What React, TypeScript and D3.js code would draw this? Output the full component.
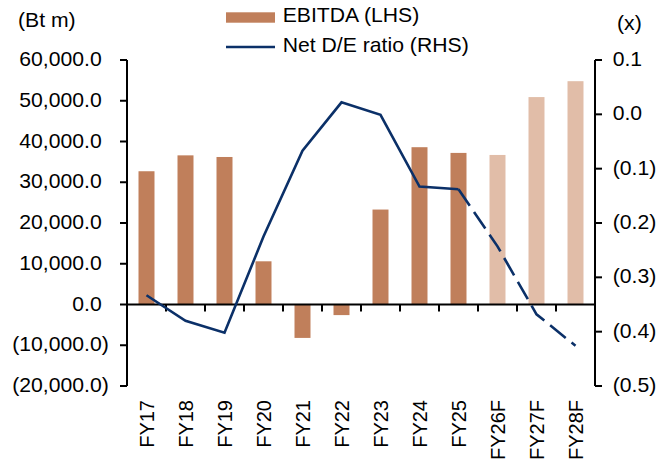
import React, { useEffect, useRef } from 'react';
import * as d3 from 'd3';

// chart values
const categories = ['FY17', 'FY18', 'FY19', 'FY20', 'FY21', 'FY22', 'FY23', 'FY24', 'FY25', 'FY26F', 'FY27F', 'FY28F'];
const ebitda = [32700, 36600, 36200, 10600, -8200, -2600, 23300, 38600, 37200, 36700, 50900, 54800];
const netDE = [-0.333, -0.38, -0.402, -0.225, -0.067, 0.022, -0.001, -0.133, -0.138, -0.243, -0.368, -0.426];
const leftTicks = [-20000, -10000, 0, 10000, 20000, 30000, 40000, 50000, 60000];
const rightTicks = [-0.5, -0.4, -0.3, -0.2, -0.1, 0, 0.1];
const firstDashed = 'FY25'; // line is dashed from here on

const App = () => {
  const ref = useRef<SVGSVGElement | null>(null);

  useEffect(() => {
    const width = 672;
    const height = 459;
    const margin = { top: 60, right: 77, bottom: 73, left: 127 };
    const font = "'Liberation Sans', Arial, sans-serif";
    const barColor = '#C07F5B';
    const barColorF = '#E1BDA8';
    const lineColor = '#0B3068';
    const stretch = 1.06;

    const svg = d3.select(ref.current);
    svg.selectAll('*').remove();

    const x = d3.scaleBand()
      .domain(categories)
      .range([margin.left, width - margin.right])
      .padding(0);

    const yL = d3.scaleLinear()
      .domain([-20000, 60000])
      .range([height - margin.bottom, margin.top]);

    const yR = d3.scaleLinear()
      .domain([-0.5, 0.1])
      .range([height - margin.bottom, margin.top]);

    const barW = x.bandwidth() * 0.41;
    const cx = (c: string) => (x(c) as number) + x.bandwidth() / 2;

    // bars
    svg.append('g')
      .selectAll('rect')
      .data(categories)
      .enter()
      .append('rect')
      .attr('x', c => cx(c) - barW / 2)
      .attr('width', barW)
      .attr('y', (c, i) => yL(Math.max(0, ebitda[i])))
      .attr('height', (c, i) => Math.abs(yL(ebitda[i]) - yL(0)))
      .attr('fill', c => (c.endsWith('F') ? barColorF : barColor));

    // helper for the slightly wide text of the original
    const txt = (g: any, tx: number, ty: number, s: string, anchor = 'start') =>
      g.append('text')
        .attr('transform', `translate(${tx},${ty}) scale(${stretch},1)`)
        .attr('text-anchor', anchor)
        .attr('font-family', font)
        .attr('font-size', 20)
        .attr('fill', '#000')
        .text(s);

    const axes = svg.append('g');

    // left axis
    axes.append('line')
      .attr('x1', margin.left).attr('x2', margin.left)
      .attr('y1', yL(60000)).attr('y2', yL(-20000))
      .attr('stroke', '#000').attr('stroke-width', 2);
    leftTicks.forEach(t => {
      axes.append('line')
        .attr('x1', margin.left - 7).attr('x2', margin.left)
        .attr('y1', yL(t)).attr('y2', yL(t))
        .attr('stroke', '#000').attr('stroke-width', 2);
      const s = d3.format(',.1f')(Math.abs(t));
      if (t < 0) txt(axes, 108.8, yL(t) + 6, `(${s})`, 'end');
      else txt(axes, 101.7, yL(t) + 6, s, 'end');
    });

    // right axis
    const xr = width - margin.right;
    axes.append('line')
      .attr('x1', xr).attr('x2', xr)
      .attr('y1', yR(0.1)).attr('y2', yR(-0.5))
      .attr('stroke', '#000').attr('stroke-width', 2);
    rightTicks.forEach(t => {
      axes.append('line')
        .attr('x1', xr).attr('x2', xr + 7)
        .attr('y1', yR(t)).attr('y2', yR(t))
        .attr('stroke', '#000').attr('stroke-width', 2);
      const s = d3.format('.1f')(Math.abs(t));
      txt(axes, 612.7, yR(t) + 6, t < -1e-9 ? `(${s})` : s);
    });

    // category axis at zero
    const y0 = yL(0);
    axes.append('line')
      .attr('x1', margin.left).attr('x2', xr)
      .attr('y1', y0).attr('y2', y0)
      .attr('stroke', '#000').attr('stroke-width', 2);
    categories.forEach((c, i) => {
      const tx = x(c) as number;
      if (i > 0) {
        axes.append('line')
          .attr('x1', tx).attr('x2', tx)
          .attr('y1', y0).attr('y2', y0 + 7)
          .attr('stroke', '#000').attr('stroke-width', 2);
      }
      axes.append('text')
        .attr('transform', `translate(${cx(c) + 7.5},400) rotate(-90)`)
        .attr('text-anchor', 'end')
        .attr('font-family', font)
        .attr('font-size', 20)
        .attr('fill', '#000')
        .text(c);
    });

    // net D/E line: solid part, then dashed forecast part
    const pts = categories.map((c, i) => [cx(c), yR(netDE[i])] as [number, number]);
    const k = categories.indexOf(firstDashed);
    const line = d3.line();
    svg.append('path')
      .attr('d', line(pts.slice(0, k + 1)))
      .attr('fill', 'none')
      .attr('stroke', lineColor)
      .attr('stroke-width', 2.6);
    svg.append('path')
      .attr('d', line(pts.slice(k)))
      .attr('fill', 'none')
      .attr('stroke', lineColor)
      .attr('stroke-width', 2.6)
      .attr('stroke-dasharray', '20,7.5');

    // axis units
    txt(svg, 18, 27, '(Bt m)');
    txt(svg, 617, 30, '(x)');

    // legend
    const legend = svg.append('g');
    legend.append('rect')
      .attr('x', 226).attr('y', 12.3)
      .attr('width', 49).attr('height', 10.4)
      .attr('fill', barColor);
    txt(legend, 282.7, 22.3, 'EBITDA (LHS)');
    legend.append('line')
      .attr('x1', 226).attr('x2', 275)
      .attr('y1', 47).attr('y2', 47)
      .attr('stroke', lineColor).attr('stroke-width', 2.6);
    txt(legend, 282.7, 51.6, 'Net D/E ratio (RHS)');
  }, []);

  return (
    <svg
      ref={ref}
      width={672}
      height={459}
      style={{ position: 'absolute', left: 0, top: 0, background: '#fff' }}
    />
  );
};

export default App;
